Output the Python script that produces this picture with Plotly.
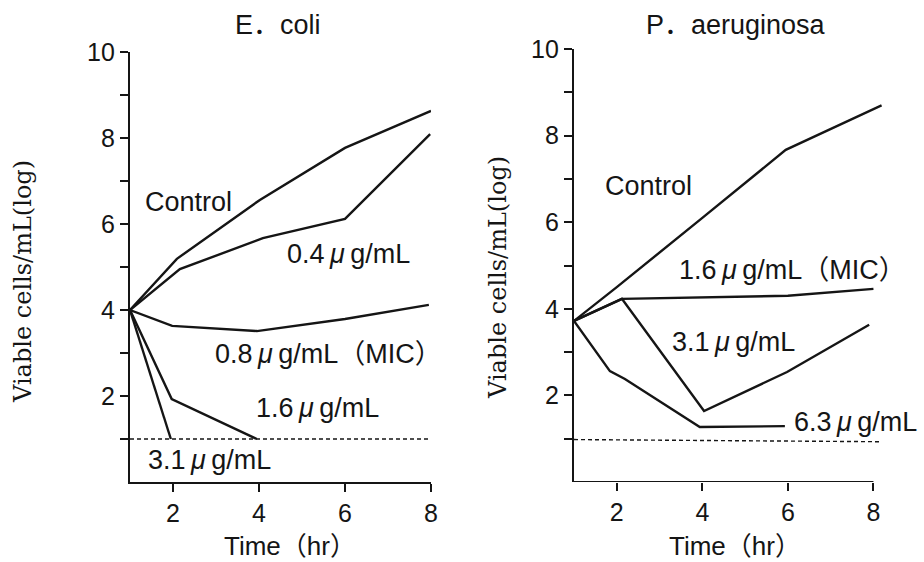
import plotly.graph_objects as go

W, H = 924, 562

# ---------------- data ----------------
# E. coli panel
ec_control_t = [1, 2.09, 4.02, 6.0, 8.0]
ec_control_v = [4.0, 5.19, 6.56, 7.77, 8.63]
ec_04_t = [1, 2.16, 4.09, 6.0, 7.98]
ec_04_v = [4.0, 4.95, 5.67, 6.12, 8.09]
ec_08_t = [1, 1.98, 3.95, 6.0, 7.95]
ec_08_v = [4.0, 3.63, 3.51, 3.79, 4.12]
ec_16_t = [1, 1.97, 3.95]
ec_16_v = [4.0, 1.93, 1.0]
ec_31_t = [1, 1.95]
ec_31_v = [4.0, 1.0]
ec_limit_t = [1, 8]
ec_limit_v = [1.0, 1.0]

# P. aeruginosa panel
pa_control_t = [1, 2.0, 4.0, 5.95, 8.19]
pa_control_v = [3.72, 4.5, 6.1, 7.67, 8.7]
pa_16_t = [1, 2.12, 6.0, 8.0]
pa_16_v = [3.72, 4.23, 4.3, 4.46]
pa_31_t = [1, 2.12, 4.04, 5.98, 7.9]
pa_31_v = [3.72, 4.23, 1.64, 2.54, 3.63]
pa_63_t = [1, 1.84, 2.19, 3.94, 5.93]
pa_63_v = [3.72, 2.56, 2.38, 1.27, 1.29]
pa_limit_t = [1, 8.19]
pa_limit_v = [0.98, 0.93]

y_tick_vals = [1, 2, 3, 4, 5, 6, 7, 8, 9, 10]
y_tick_text = ["", "2", "", "4", "", "6", "", "8", "", "10"]
x_tick_vals = [2, 4, 6, 8]
x_tick_text = ["2", "4", "6", "8"]

titles = ["E．coli", "P．aeruginosa"]
x_title = "Time（hr）"
y_title = "Viable cells/mL(log)"

MU = "\u2009<i>μ</i>\u2009"
ec_labels = [
    ("Control", 2.35, 6.51),
    ("0.4" + MU + "g/mL", 6.09, 5.30),
    ("0.8" + MU + "g/mL（MIC）", 5.61, 2.98),
    ("1.6" + MU + "g/mL", 5.35, 1.72),
    ("3.1" + MU + "g/mL", 2.84, 0.51),
]
pa_labels = [
    ("Control", 2.73, 6.84),
    ("1.6" + MU + "g/mL（MIC）", 6.1, 4.90),
    ("3.1" + MU + "g/mL", 4.74, 3.23),
    ("6.3" + MU + "g/mL", 7.57, 1.39),
]

# ---------------- style ----------------
INK = "#151515"
SANS = "Liberation Sans, Arial, Noto Sans CJK JP, sans-serif"
SERIF = "DejaVu Serif, Liberation Serif, serif"

fig = go.Figure()

def add_line(t, v, xa, ya, dash="solid", width=2.4):
    fig.add_trace(go.Scatter(x=t, y=v, xaxis=xa, yaxis=ya, mode="lines",
                             line=dict(color=INK, width=width, dash=dash),
                             hoverinfo="skip", showlegend=False))

for t, v in [(ec_control_t, ec_control_v), (ec_04_t, ec_04_v), (ec_08_t, ec_08_v),
             (ec_16_t, ec_16_v), (ec_31_t, ec_31_v)]:
    add_line(t, v, "x", "y")
add_line(ec_limit_t, ec_limit_v, "x", "y", dash="4px,3px", width=1.4)

for t, v in [(pa_control_t, pa_control_v), (pa_16_t, pa_16_v), (pa_31_t, pa_31_v),
             (pa_63_t, pa_63_v)]:
    add_line(t, v, "x2", "y2")
add_line(pa_limit_t, pa_limit_v, "x2", "y2", dash="4px,3px", width=1.4)

def px_x(p):
    return p / W

def px_y(p):
    return 1 - p / H

common_y = dict(range=[0, 10], tickvals=y_tick_vals, ticktext=y_tick_text,
                ticks="outside", ticklen=8, tickwidth=2, tickcolor=INK,
                showline=True, linecolor=INK, linewidth=2.2, showgrid=False,
                zeroline=False, tickfont=dict(family=SANS, size=25, color=INK),
                fixedrange=True, automargin=False)
common_x = dict(tickvals=x_tick_vals, ticktext=x_tick_text,
                ticks="outside", ticklen=8, tickwidth=2, tickcolor=INK,
                showgrid=False, zeroline=False, automargin=False,
                tickfont=dict(family=SANS, size=25, color=INK), fixedrange=True)

fig.update_layout(
    template="none",
    width=W, height=H,
    margin=dict(l=0, r=0, t=0, b=0, autoexpand=False),
    paper_bgcolor="white", plot_bgcolor="white",
    xaxis=dict(domain=[px_x(130), px_x(431)], range=[1, 8], anchor="y",
               showline=True, linecolor=INK, linewidth=2.2, **common_x),
    yaxis=dict(domain=[px_y(482), px_y(52)], anchor="x", **common_y),
    xaxis2=dict(domain=[px_x(574), px_x(882)], range=[1, 8.2], anchor="y2",
                showline=False, **common_x),
    yaxis2=dict(domain=[px_y(482), px_y(49)], anchor="x2", **common_y),
)

fig.add_shape(type="line", xref="x2", yref="y2", x0=1, x1=8, y0=0, y1=0,
              line=dict(color=INK, width=2.2))

ann = []
for text, x, y in ec_labels:
    ann.append(dict(text=text, x=x, y=y, xref="x", yref="y", showarrow=False,
                    xanchor="center", yanchor="middle",
                    font=dict(family=SANS, size=27, color=INK)))
for text, x, y in pa_labels:
    ann.append(dict(text=text, x=x, y=y, xref="x2", yref="y2", showarrow=False,
                    xanchor="center", yanchor="middle",
                    font=dict(family=SANS, size=27, color=INK)))

ann.append(dict(text=titles[0], x=px_x(278), y=px_y(25), xref="paper", yref="paper",
                showarrow=False, xanchor="center", yanchor="middle",
                font=dict(family=SANS, size=27, color=INK)))
ann.append(dict(text=titles[1], x=px_x(736), y=px_y(25), xref="paper", yref="paper",
                showarrow=False, xanchor="center", yanchor="middle",
                font=dict(family=SANS, size=27, color=INK)))
for cx in (290, 735):
    ann.append(dict(text=x_title, x=px_x(cx), y=px_y(546), xref="paper", yref="paper",
                    showarrow=False, xanchor="center", yanchor="middle",
                    font=dict(family=SANS, size=26, color=INK)))
for cx, cy in ((23, 282), (498, 278)):
    ann.append(dict(text=y_title, x=px_x(cx), y=px_y(cy), xref="paper", yref="paper",
                    showarrow=False, xanchor="center", yanchor="middle", textangle=-90,
                    font=dict(family=SERIF, size=24, color=INK)))

fig.update_layout(annotations=ann)

fig.write_html("out.html")
